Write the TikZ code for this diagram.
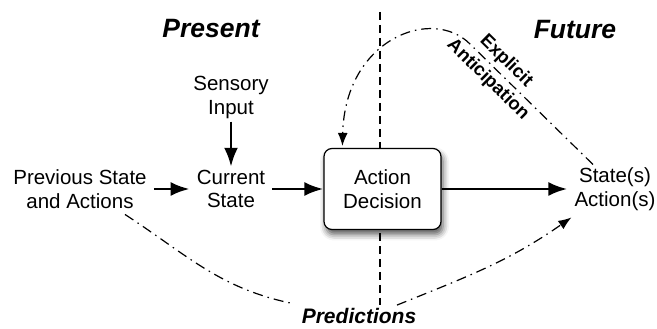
\documentclass[tikz,border=0pt]{standalone}
\usepackage{fontspec}
\setmainfont{Liberation Sans}
\usetikzlibrary{arrows.meta,shadows.blur}

\begin{document}
\begin{tikzpicture}[x=1pt,y=1pt,
    txt/.style={align=center, inner xsep=7pt, inner ysep=3pt, font=\fontsize{20.5}{23.5}\selectfont},
    heading/.style={font=\fontsize{26.5}{30}\selectfont\bfseries\itshape},
    flow/.style={-{Latex[length=19pt,width=14pt]}, line width=2.9pt},
    hint/.style={line width=1.2pt, dash pattern=on 10pt off 5pt on 1.5pt off 5pt},
    guess/.style={hint, -{Latex[length=13pt,width=10pt]}},
    divider/.style={line width=1.2pt, dash pattern=on 8pt off 5pt}]
        \useasboundingbox (0,0) rectangle (657,329);

        \coordinate (top) at (380,317);
        \coordinate (bottom) at (380,24);
        \draw[divider] (top) -- (bottom);

        \node[heading] (present) at (211,300) {Present};
        \node[heading] (future) at (575,299) {Future};

        \node[txt] (prev) at (80,140) {Previous State\\and Actions};
        \node[txt] (sensory) at (231,231.5) {Sensory\\Input};
        \node[txt] (current) at (231,140) {Current\\State};
        \node[txt, draw, fill=white, line width=1.2pt, rounded corners=8pt,
              minimum width=117pt, minimum height=81pt,
              blur shadow={shadow xshift=2pt, shadow yshift=-5pt, shadow blur radius=6pt, shadow opacity=65}]
              (decision) at (382.5,140) {Action\\Decision};
        \node[txt] (states) at (615,140) {State(s)\\Action(s)};
        \node[font=\fontsize{21}{24}\selectfont\bfseries\itshape, inner sep=3pt] (pred) at (359,13) {Predictions};

        \path[flow] (prev) edge (current);
        \path[flow] (sensory) edge (current);
        \path[flow] (current) edge (decision);
        \path[flow] (decision) edge (states);

        \draw[hint] ([xshift=45pt,yshift=-3pt]prev.south) to[out=-33,in=168] ([xshift=-8pt,yshift=2pt]pred.north west);
        \draw[guess] ([xshift=38pt]pred.north) to[out=22,in=-145] ([xshift=4pt,yshift=-4pt]states.south west);

        \draw[guess] ([xshift=-22pt]states.north)
            -- node[pos=0.78, rotate=-44.5, align=center, font=\fontsize{18.5}{26}\selectfont\bfseries] (anticip) {Explicit\\Anticipation}
            (470,285) .. controls (432,323) and (345,290) .. ([xshift=19pt,yshift=2pt]decision.north west);
\end{tikzpicture}
\end{document}
